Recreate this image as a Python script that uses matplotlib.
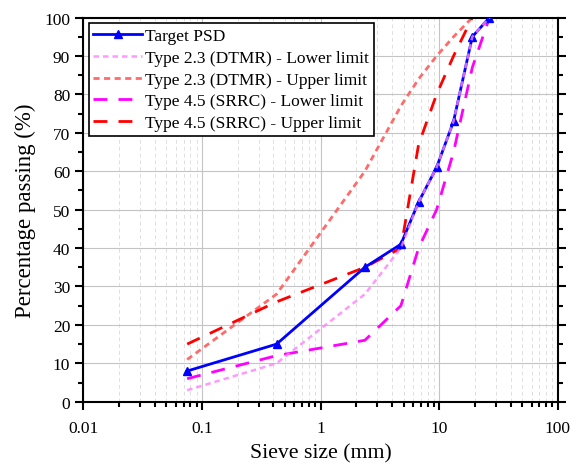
import matplotlib
matplotlib.use("Agg")
import matplotlib.pyplot as plt
from matplotlib.ticker import LogLocator, MultipleLocator, FixedLocator, NullFormatter

plt.rcParams['font.family'] = ['Liberation Serif', 'DejaVu Serif']

# sieve sizes (mm)
sieves = [0.075, 0.425, 2.36, 4.75, 6.7, 9.5, 13.2, 19, 26.5]

target = [8, 15, 35, 41, 52, 61, 73, 95, 100]
dtmr_lower = [3, 10, 28, 40, 52, 61, 73, 95, 100]
dtmr_upper = [11, 28, 60, 77, 84, 90, 95, 100, 100]
srrc_lower = [6, 12, 16, 25, 40, 50, 65, 87, 100]
srrc_upper = [15, 26, 35, 40, 67, 80, 90, 100, 100]

labels = ["Target PSD",
          "Type 2.3 (DTMR) - Lower limit",
          "Type 2.3 (DTMR) - Upper limit",
          "Type 4.5 (SRRC) - Lower limit",
          "Type 4.5 (SRRC) - Upper limit"]

fig = plt.figure(figsize=(5.71, 4.64), dpi=100)
ax = fig.add_axes([0.146, 0.132, 0.831, 0.828])

ax.plot(sieves, target, color='#0000FF', lw=2, marker='^', ms=6, label=labels[0], zorder=5)
ax.plot(sieves, dtmr_lower, color='#FF80FF', lw=1.8, dashes=(2.2, 1.6), label=labels[1], zorder=6, alpha=0.8)
ax.plot(sieves, dtmr_upper, color='#FF6B6B', lw=2, dashes=(2.2, 1.6), label=labels[2])
ax.plot(sieves, srrc_lower, color='#FF00FF', lw=2, dashes=(5, 4), label=labels[3])
ax.plot(sieves, srrc_upper, color='#FF0000', lw=2, dashes=(5, 4), label=labels[4])

ax.set_xscale('log')
ax.set_xlim(0.01, 100)
ax.set_ylim(0, 100)
ax.xaxis.set_major_locator(FixedLocator([0.01, 0.1, 1, 10, 100]))
ax.set_xticklabels(['0.01', '0.1', '1', '10', '100'])
ax.xaxis.set_minor_locator(LogLocator(base=10, subs=range(2, 10), numticks=20))
ax.xaxis.set_minor_formatter(NullFormatter())
ax.yaxis.set_major_locator(MultipleLocator(10))
ax.yaxis.set_minor_locator(MultipleLocator(5))

ax.grid(which='major', color='#c4c4c4', lw=0.8, ls='-')
ax.grid(which='minor', axis='x', color='#e0e0e0', lw=0.7, ls=(0, (4, 3)))
ax.set_axisbelow(True)

for s in ax.spines.values():
    s.set_linewidth(1.5)
ax.tick_params(which='both', direction='out', right=True, top=False, width=1.5,
               labelsize=12.5, colors='black')
ax.tick_params(axis='x', which='major', pad=7)
ax.tick_params(which='major', length=6)
ax.tick_params(which='minor', length=3.5)

ax.set_xlabel('Sieve size (mm)', fontsize=15.7, labelpad=5)
ax.set_ylabel('Percentage passing (%)', fontsize=16.5, labelpad=6)

leg = ax.legend(loc='upper left', bbox_to_anchor=(0.012, 0.985), fontsize=12.5,
                fancybox=False, edgecolor='black', framealpha=1, borderpad=0.25,
                labelspacing=0.33, handlelength=2.8, handletextpad=0.2, borderaxespad=0)
leg.get_frame().set_linewidth(1.2)

fig.savefig('out.png', dpi=100)
